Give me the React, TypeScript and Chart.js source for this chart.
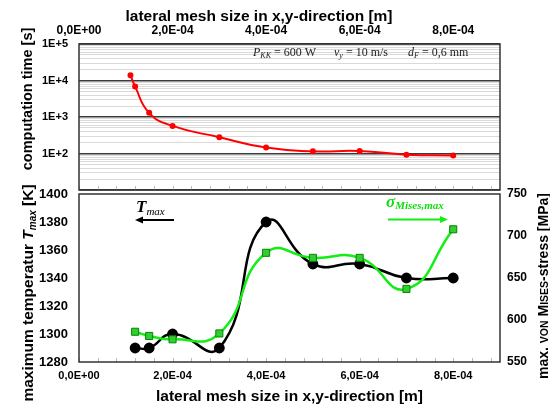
import React, { useEffect, useRef } from "react";
import { Chart, registerables } from "chart.js";
Chart.register(...registerables);

// ---- data ----
const meshSizeTime = [1.1e-4, 1.2e-4, 1.5e-4, 2e-4, 3e-4, 4e-4, 5e-4, 6e-4, 7e-4, 8e-4];
const computationTime = [14000, 6800, 1300, 570, 280, 145, 115, 117, 93, 88];
const meshSize = [1.2e-4, 1.5e-4, 2e-4, 3e-4, 4e-4, 5e-4, 6e-4, 7e-4, 8e-4];
const tMax = [1290, 1290, 1300, 1290, 1380, 1350, 1350, 1340, 1340];
const sigmaMax = [586, 581, 577, 584, 680, 674, 674, 637, 708];
const xTickValues = [0, 2e-4, 4e-4, 6e-4, 8e-4];
const xTickLabels = ["0,0E+00", "2,0E-04", "4,0E-04", "6,0E-04", "8,0E-04"];
const logTickValues = [1e2, 1e3, 1e4, 1e5];
const logTickLabels = ["1E+2", "1E+3", "1E+4", "1E+5"];

const SANS = '"Liberation Sans", Arial, sans-serif';
const SERIF = '"Liberation Serif", "DejaVu Serif", serif';

type Seg = { t: string; f: string; dy?: number };
function drawSegs(ctx: CanvasRenderingContext2D, segs: Seg[], x: number, y: number, rotate: boolean, color: string, center = true) {
  ctx.save();
  ctx.translate(x, y);
  if (rotate) ctx.rotate(-Math.PI / 2);
  ctx.fillStyle = color;
  ctx.textBaseline = "alphabetic";
  ctx.textAlign = "left";
  let total = 0;
  for (const s of segs) {
    ctx.font = s.f;
    total += ctx.measureText(s.t).width;
  }
  let cx = center ? -total / 2 : 0;
  for (const s of segs) {
    ctx.font = s.f;
    ctx.fillText(s.t, cx, s.dy || 0);
    cx += ctx.measureText(s.t).width;
  }
  ctx.restore();
}

function arrow(ctx: CanvasRenderingContext2D, x1: number, x2: number, y: number, color: string) {
  ctx.save();
  ctx.strokeStyle = color;
  ctx.fillStyle = color;
  ctx.lineWidth = 2;
  const dir = x2 > x1 ? 1 : -1;
  ctx.beginPath();
  ctx.moveTo(x1, y);
  ctx.lineTo(x2 - dir * 6, y);
  ctx.stroke();
  ctx.beginPath();
  ctx.moveTo(x2, y);
  ctx.lineTo(x2 - dir * 8, y - 3.5);
  ctx.lineTo(x2 - dir * 8, y + 3.5);
  ctx.closePath();
  ctx.fill();
  ctx.restore();
}

function frameAndMinor(chart: any) {
  const ctx = chart.ctx as CanvasRenderingContext2D;
  const a = chart.chartArea;
  const xs = chart.scales.x;
  ctx.save();
  ctx.strokeStyle = "#bbbbbb";
  ctx.lineWidth = 1;
  for (let i = 0; i <= 22; i++) {
    const px = xs.getPixelForValue(i * 0.4e-4);
    if (px > a.right - 1) break;
    ctx.beginPath();
    ctx.moveTo(Math.round(px) + 0.5, a.bottom);
    ctx.lineTo(Math.round(px) + 0.5, a.bottom - 4);
    ctx.stroke();
  }
  ctx.strokeStyle = "#333333";
  ctx.lineWidth = 1.5;
  ctx.strokeRect(a.left, a.top, a.right - a.left, a.bottom - a.top);
  ctx.restore();
}

const xLabel = (value: number) => {
  const i = xTickValues.findIndex((v) => Math.abs(v - value) < 1e-10);
  return i >= 0 ? xTickLabels[i] : "";
};

export default function App() {
  const topRef = useRef<HTMLCanvasElement>(null);
  const botRef = useRef<HTMLCanvasElement>(null);

  useEffect(() => {
    const topPlugin = {
      id: "topDeco",
      afterDraw(chart: any) {
        frameAndMinor(chart);
        const ctx = chart.ctx as CanvasRenderingContext2D;
        drawSegs(ctx, [{ t: "lateral mesh size in x,y-direction [m]", f: `bold 15.5px ${SANS}` }], 259, 20.5, false, "#000");
        drawSegs(ctx, [{ t: "computation time [s]", f: `bold 14.5px ${SANS}` }], 32, 99, true, "#000");
        const f1 = `italic 12px ${SERIF}`;
        const f2 = `italic 8px ${SERIF}`;
        const f3 = `12px ${SERIF}`;
        drawSegs(ctx, [{ t: "P", f: f1 }, { t: "KK", f: f2, dy: 2 }, { t: " = 600 W", f: f3 }], 253, 56, false, "#222", false);
        drawSegs(ctx, [{ t: "v", f: f1 }, { t: "y", f: f2, dy: 2 }, { t: " = 10 m/s", f: f3 }], 334, 56, false, "#222", false);
        drawSegs(ctx, [{ t: "d", f: f1 }, { t: "F", f: f2, dy: 2 }, { t: " = 0,6 mm", f: f3 }], 408, 56, false, "#222", false);
      },
    };

    const top = new Chart(topRef.current!, {
      type: "line",
      data: {
        datasets: [
          {
            data: meshSizeTime.map((x, i) => ({ x, y: computationTime[i] })),
            borderColor: "#ff0000",
            backgroundColor: "#ff0000",
            borderWidth: 2,
            pointRadius: 2,
            pointBackgroundColor: "#ff0000",
            pointBorderColor: "#ff0000",
            tension: 0.5,
          },
        ],
      },
      options: {
        animation: false,
        responsive: false,
        events: [],
        layout: { padding: { left: 0, right: 50, top: 0, bottom: 216 } },
        plugins: { legend: { display: false }, tooltip: { enabled: false } },
        scales: {
          x: {
            type: "linear",
            position: "top",
            min: 0,
            max: 9e-4,
            afterBuildTicks: (s: any) => {
              s.ticks = xTickValues.map((v) => ({ value: v }));
            },
            afterFit: (s: any) => {
              s.height = 44;
            },
            grid: { display: false, drawTicks: false },
            border: { display: false },
            ticks: {
              autoSkip: false,
              maxRotation: 0,
              padding: 6,
              color: "#000",
              font: { family: SANS, size: 12, weight: "bold" },
              callback: (v: any) => xLabel(Number(v)),
            },
          },
          y: {
            type: "logarithmic",
            min: 10,
            max: 1e5,
            afterBuildTicks: (s: any) => {
              const t: any[] = [];
              for (let e = 1; e <= 4; e++) for (let m = 1; m <= 9; m++) t.push({ value: m * Math.pow(10, e) });
              t.push({ value: 1e5 });
              s.ticks = t;
            },
            afterFit: (s: any) => {
              s.width = 79;
            },
            border: { display: false },
            grid: {
              drawTicks: false,
              color: (c: any) => {
                const v = c.tick ? c.tick.value : 0;
                const l = Math.log10(v);
                return Math.abs(l - Math.round(l)) < 1e-6 ? "#3a3a3a" : "#dadada";
              },
              lineWidth: (c: any) => {
                const v = c.tick ? c.tick.value : 0;
                const l = Math.log10(v);
                return Math.abs(l - Math.round(l)) < 1e-6 ? 1.6 : 1;
              },
            },
            ticks: {
              autoSkip: false,
              padding: 11,
              color: "#000",
              font: { family: SANS, size: 11, weight: "bold" },
              callback: (v: any) => {
                const i = logTickValues.findIndex((t) => Math.abs(t - Number(v)) < 1e-6 * t);
                return i >= 0 ? logTickLabels[i] : "";
              },
            },
          },
        },
      },
      plugins: [topPlugin],
    } as any);

    const botPlugin = {
      id: "botDeco",
      afterDraw(chart: any) {
        frameAndMinor(chart);
        const ctx = chart.ctx as CanvasRenderingContext2D;
        drawSegs(ctx, [{ t: "lateral mesh size in x,y-direction [m]", f: `bold 15.5px ${SANS}` }], 289.5, 400.5, false, "#000");
        drawSegs(
          ctx,
          [
            { t: "maximum temperatur ", f: `bold 15.5px ${SANS}` },
            { t: "T", f: `italic bold 15.5px ${SANS}` },
            { t: "max", f: `italic bold 10px ${SANS}`, dy: 3 },
            { t: " [K]", f: `bold 15.5px ${SANS}` },
          ],
          33,
          293,
          true,
          "#000"
        );
        drawSegs(
          ctx,
          [
            { t: "max. ", f: `bold 14px ${SANS}` },
            { t: "VON", f: `bold 10.5px ${SANS}` },
            { t: " M", f: `bold 14px ${SANS}` },
            { t: "ISES", f: `bold 10.5px ${SANS}` },
            { t: "-stress [MPa]", f: `bold 14px ${SANS}` },
          ],
          548,
          286,
          true,
          "#000"
        );
        drawSegs(
          ctx,
          [
            { t: "T", f: `italic bold 17px ${SERIF}` },
            { t: "max", f: `italic 11px ${SERIF}`, dy: 3 },
          ],
          136,
          212,
          false,
          "#000",
          false
        );
        arrow(ctx, 174, 135, 220, "#000");
        drawSegs(
          ctx,
          [
            { t: "σ", f: `italic bold 17px ${SERIF}` },
            { t: "Mises,max", f: `italic bold 11px ${SERIF}`, dy: 2 },
          ],
          386,
          207,
          false,
          "#11dd11",
          false
        );
        arrow(ctx, 388, 448, 219.5, "#11ee11");
      },
    };

    const bot = new Chart(botRef.current!, {
      type: "line",
      data: {
        datasets: [
          {
            data: meshSize.map((x, i) => ({ x, y: sigmaMax[i] })),
            yAxisID: "yS",
            borderColor: "#11ee11",
            borderWidth: 2.5,
            pointStyle: "rect",
            pointRadius: 5,
            pointBackgroundColor: "#33cc33",
            pointBorderColor: "#008800",
            pointBorderWidth: 1,
            tension: 0.5,
            order: 0,
          },
          {
            data: meshSize.map((x, i) => ({ x, y: tMax[i] })),
            yAxisID: "yT",
            borderColor: "#000000",
            borderWidth: 2.5,
            pointRadius: 4.2,
            pointBackgroundColor: "#000",
            pointBorderColor: "#000",
            tension: 0.5,
            order: 1,
          },
        ],
      },
      options: {
        animation: false,
        responsive: false,
        events: [],
        layout: { padding: { left: 0, right: 0, top: 194, bottom: 0 } },
        plugins: { legend: { display: false }, tooltip: { enabled: false } },
        scales: {
          x: {
            type: "linear",
            position: "bottom",
            min: 0,
            max: 9e-4,
            afterBuildTicks: (s: any) => {
              s.ticks = xTickValues.map((v) => ({ value: v }));
            },
            afterFit: (s: any) => {
              s.height = 44;
            },
            grid: { display: false, drawTicks: false },
            border: { display: false },
            ticks: {
              autoSkip: false,
              maxRotation: 0,
              padding: 7,
              color: "#000",
              font: { family: SANS, size: 11, weight: "bold" },
              callback: (v: any) => xLabel(Number(v)),
            },
          },
          yT: {
            type: "linear",
            position: "left",
            min: 1280,
            max: 1400,
            afterFit: (s: any) => {
              s.width = 79;
            },
            grid: { display: false, drawTicks: false },
            border: { display: false },
            ticks: {
              stepSize: 20,
              padding: 11,
              color: "#000",
              font: { family: SANS, size: 13, weight: "bold" },
              callback: (v: any) => String(Math.round(Number(v))),
            },
          },
          yS: {
            type: "linear",
            position: "right",
            min: 550,
            max: 750,
            afterFit: (s: any) => {
              s.width = 50;
            },
            grid: { display: false, drawTicks: false },
            border: { display: false },
            ticks: {
              stepSize: 50,
              padding: 7,
              color: "#000",
              font: { family: SANS, size: 12, weight: "bold" },
              callback: (v: any) => String(Math.round(Number(v))),
            },
          },
        },
      },
      plugins: [botPlugin],
    } as any);

    return () => {
      top.destroy();
      bot.destroy();
    };
  }, []);

  const cs: React.CSSProperties = { position: "absolute", left: 0, top: 0, width: 550, height: 406 };
  return (
    <div style={{ position: "absolute", left: 0, top: 0, width: 550, height: 406, background: "#fff" }}>
      <canvas ref={topRef} width={550} height={406} style={cs} />
      <canvas ref={botRef} width={550} height={406} style={cs} />
    </div>
  );
}
